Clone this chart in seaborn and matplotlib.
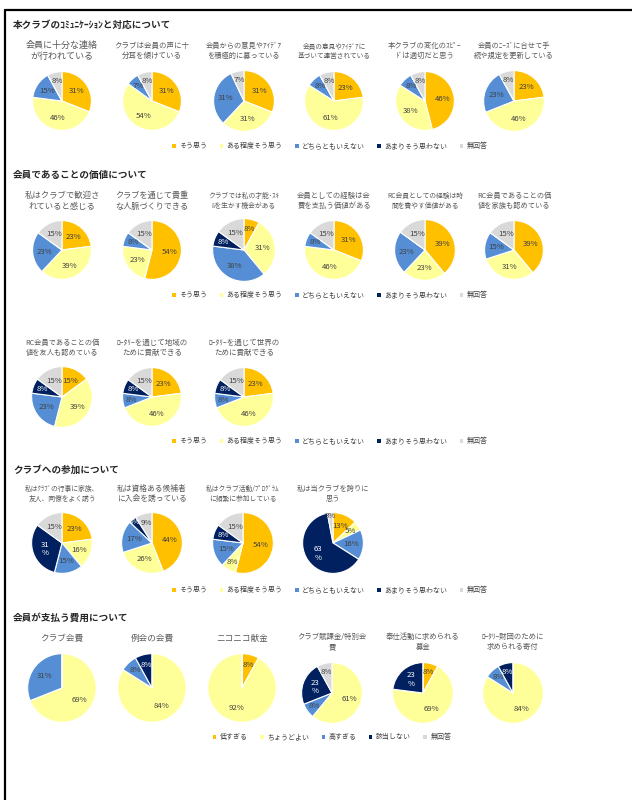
import matplotlib
matplotlib.use("Agg")
import matplotlib.pyplot as plt
from matplotlib.patches import Patch
import numpy as np
import seaborn as sns

sns.set_theme(style="white")
plt.rcParams['font.family'] = ['Noto Sans CJK JP', 'DejaVu Sans']

# ---- data ----
agree_labels = ['そう思う', 'ある程度そう思う', 'どちらともいえない', 'あまりそう思わない', '無回答']
cost_labels = ['低すぎる', 'ちょうどよい', '高すぎる', '該当しない', '無回答']
colors = ['#FFC000', '#FFFF99', '#558ED5', '#002060', '#D9D9D9']

sec1_title = '本クラブのｺﾐｭﾆｹｰｼｮﾝと対応について'
sec1_charts = ['会員に十分な連絡\nが行われている', 'クラブは会員の声に十\n分耳を傾けている',
               '会員からの意見やｱｲﾃﾞｱ\nを積極的に募っている', '会員の意見やｱｲﾃﾞｱに\n基づいて運営されている',
               '本クラブの変化のｽﾋﾟｰ\nﾄﾞは適切だと思う', '会員のﾆｰｽﾞに合せて手\n続や規定を更新している']
sec1_values = [[31, 46, 15, 0, 8], [31, 54, 7, 0, 8], [31, 31, 31, 0, 7],
               [23, 61, 8, 0, 8], [46, 38, 8, 0, 8], [23, 46, 23, 0, 8]]

sec2_title = '会員であることの価値について'
sec2_charts = ['私はクラブで歓迎さ\nれていると感じる', 'クラブを通じて貴重\nな人脈づくりできる',
               'クラブでは私の才能･ｽｷ\nﾙを生かす機会がある', '会員としての経験は会\n費を支払う価値がある',
               'RC会員としての経験は時\n間を費やす価値がある', 'RC会員であることの価\n値を家族も認めている']
sec2_values = [[23, 39, 23, 0, 15], [54, 23, 8, 0, 15], [8, 31, 38, 8, 15],
               [31, 46, 8, 0, 15], [39, 23, 23, 0, 15], [39, 31, 15, 0, 15]]
sec2b_charts = ['RC会員であることの価\n値を友人も認めている', 'ﾛｰﾀﾘｰを通じて地域の\nために貢献できる',
                'ﾛｰﾀﾘｰを通じて世界の\nために貢献できる']
sec2b_values = [[15, 39, 23, 8, 15], [23, 46, 8, 8, 15], [23, 46, 8, 8, 15]]

sec3_title = 'クラブへの参加について'
sec3_charts = ['私はｸﾗﾌﾞの行事に家族、\n友人、同僚をよく誘う', '私は資格ある候補者\nに入会を誘っている',
               '私はクラブ活動/ﾌﾟﾛｸﾞﾗﾑ\nに頻繁に参加している', '私は当クラブを誇りに\n思う']
sec3_values = [[23, 16, 15, 31, 15], [44, 26, 17, 4, 9], [54, 8, 15, 8, 15], [13, 5, 16, 63, 3]]

sec4_title = '会員が支払う費用について'
sec4_charts = ['クラブ会費', '例会の会費', 'ニコニコ献金', 'クラブ賦課金/特別会\n費',
               '奉仕活動に求められる\n募金', 'ﾛｰﾀﾘｰ財団のために\n求められる寄付']
sec4_values = [[0, 69, 31, 0, 0], [0, 84, 8, 8, 0], [8, 92, 0, 0, 0],
               [0, 61, 8, 23, 8], [8, 69, 0, 23, 0], [0, 84, 8, 8, 0]]

W, H = 632, 800
fig = plt.figure(figsize=(W / 100, H / 100), dpi=100)
fig.patch.set_facecolor('white')


def px(x, y):
    return x / W, 1 - y / H


def draw_pie(cx, cy, r, vals):
    ax = fig.add_axes([(cx - r) / W, 1 - (cy + r) / H, 2 * r / W, 2 * r / H])
    wedges, _ = ax.pie(vals, colors=colors, startangle=90, counterclock=False,
                       wedgeprops=dict(edgecolor='white', linewidth=0.8))
    ax.set_xlim(-1.02, 1.02)
    ax.set_ylim(-1.02, 1.02)
    ax.set_aspect('equal')
    ax.axis('off')
    for i, (w, v) in enumerate(zip(wedges, vals)):
        if v == 0:
            continue
        ang = np.deg2rad((w.theta1 + w.theta2) / 2)
        if v < 5:
            d = 0.9
        elif v < 10:
            d = 0.7
        else:
            d = 0.6
        txt = f'{v}%'
        col = '#404040'
        if i == 3:
            col = 'white'
            if v >= 20:
                txt = f'{v}\n%'
        ax.text(d * np.cos(ang), d * np.sin(ang), txt, ha='center', va='center',
                fontsize=5.6, color=col, linespacing=1.1)
    return ax


def draw_row(titles, values, xs, title_y, pie_y, radii, tsizes):
    for t, v, x, r, fs in zip(titles, values, xs, radii, tsizes):
        fig.text(*px(x, title_y), t, ha='center', va='center', fontsize=fs,
                 color='#595959', linespacing=1.25)
        draw_pie(x, pie_y, r, v)


def draw_legend(labels, x, y):
    handles = [Patch(facecolor=c, edgecolor='none') for c in colors]
    fig.legend(handles, labels, loc='center', bbox_to_anchor=px(x, y), ncol=5,
               frameon=False, fontsize=5.0, handlelength=0.5, handleheight=0.5,
               handletextpad=0.5, columnspacing=1.8, labelcolor='#404040')


def section_title(t, y):
    fig.text(*px(13, y), t, ha='left', va='center', fontsize=6.9, fontweight='bold', color='#262626')


xs6 = [62, 152, 244, 334, 425, 514]

# section 1
section_title(sec1_title, 25)
draw_row(sec1_charts, sec1_values, xs6, 51, 101, [30, 30, 31, 30, 30, 31],
         [6.5, 5.4, 5.2, 4.8, 5.3, 5.2])
draw_legend(agree_labels, 330, 146)

# section 2
section_title(sec2_title, 175)
draw_row(sec2_charts, sec2_values, xs6, 201, 250, [30, 30, 32, 30, 31, 30],
         [6.0, 5.9, 4.9, 5.3, 4.9, 5.2])
draw_legend(agree_labels, 330, 295)

draw_row(sec2b_charts, sec2b_values, xs6[:3], 348, 397, [31, 30, 30],
         [5.2, 5.4, 5.4])
draw_legend(agree_labels, 330, 441)

# section 3
section_title(sec3_title, 470)
draw_row(sec3_charts, sec3_values, [62, 152, 243, 333], 494, 543, [31, 31, 31, 31],
         [4.9, 5.6, 4.9, 5.2])
draw_legend(agree_labels, 330, 590)

# section 4
section_title(sec4_title, 618)
draw_row(sec4_charts[:3], sec4_values[:3], [62, 152, 242], 638, 688, [35, 35, 35],
         [6.2, 6.2, 6.2])
draw_row(sec4_charts[3:], sec4_values[3:], [332, 423, 513], 642, 693, [31, 31, 31],
         [5.3, 5.3, 5.3])
draw_legend(cost_labels, 332, 737)

# page frame
fig.add_artist(plt.Line2D([5 / W, 1], [1 - 10 / H, 1 - 10 / H], color='black', linewidth=1.6,
                          transform=fig.transFigure))
fig.add_artist(plt.Line2D([5 / W, 5 / W], [1 - 10 / H, 0], color='black', linewidth=1.6,
                          transform=fig.transFigure))

fig.savefig('out.png', dpi=100, facecolor='white')
